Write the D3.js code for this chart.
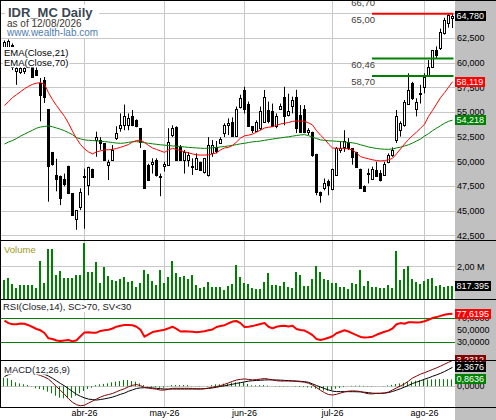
<!DOCTYPE html>
<html>
  <head>
    <meta charset="utf-8">
    <title>IDR_MC Daily</title>
    <script src="https://cdn.jsdelivr.net/npm/d3@7"></script>
    <style>
      body { margin: 0; background: #fff; }
      #chart { display: block; font-family: "Liberation Sans", Arial, sans-serif; }
      .axis .domain { display: none; }
      .axis text { font-family: "Liberation Sans", Arial, sans-serif; font-size: 9px; fill: #000; }
    </style>
  </head>
  <body>
    <svg id="chart" width="496" height="420"></svg>
    <script>
      // daily sessions, early March to 12 Aug 2026, oldest first
      var opens = [60.3, 61.2, 61.8, 59.2, 59.1, 59.2, 59.6, 59.6, 59.3, 58.0,
        58.3, 55.3, 51.0, 48.7, 48.6, 48.3, 49.55, 46.8, 44.2, 45.45,
        48.5, 47.6, 49.3, 52.2, 52.2, 51.9, 49.7, 50.2, 52.4, 53.4,
        53.7, 53.7, 54.6, 54.2, 53.4, 51.2, 49.7, 49.8, 50.2, 48.6,
        49.6, 49.7, 52.7, 53.5, 51.5, 50.2, 50.2, 49.6, 49.3, 50.0,
        49.0, 48.66, 50.85, 51.5, 51.9, 52.9, 53.7, 54.05, 52.6, 55.6,
        57.28, 55.9, 53.6, 53.15, 53.4, 54.05, 55.2, 55.1, 53.6, 55.4,
        56.6, 54.7, 55.65, 56.6, 54.7, 55.4, 53.05, 53.05, 50.8, 46.97,
        47.3, 48.0, 47.2, 48.66, 51.2, 51.5, 52.05, 51.35, 51.0, 49.3,
        47.5, 48.9, 48.2, 49.2, 48.9, 48.66, 50.0, 50.7, 52.2, 53.2,
        53.7, 55.9, 57.95, 55.4, 56.9, 57.6, 58.8, 59.64, 61.33, 61.5,
        63.1, 64.1, 64.6];
      var highs = [62.3, 62.4, 62.0, 60.3, 60.2, 60.0, 60.4, 60.2, 59.8, 58.5,
        58.6, 55.3, 51.0, 50.3, 48.6, 48.8, 49.6, 46.8, 45.1, 47.3,
        49.3, 49.5, 49.3, 53.05, 52.5, 51.9, 50.2, 51.7, 53.6, 54.9,
        55.8, 54.9, 55.25, 54.3, 53.4, 51.2, 49.8, 50.35, 50.35, 48.8,
        50.0, 53.4, 53.7, 53.6, 51.7, 51.2, 51.0, 50.35, 50.85, 50.0,
        50.35, 52.5, 52.2, 52.1, 52.5, 53.9, 54.4, 54.5, 55.6, 56.8,
        57.6, 56.1, 53.6, 54.2, 55.6, 57.28, 56.1, 55.9, 54.9, 55.9,
        57.6, 56.9, 56.6, 57.3, 55.75, 55.75, 53.4, 53.05, 50.8, 46.97,
        48.3, 48.2, 49.3, 51.5, 52.05, 53.2, 52.4, 51.35, 51.0, 49.3,
        47.6, 49.3, 49.5, 50.0, 49.15, 50.0, 50.85, 51.45, 55.25, 54.1,
        56.26, 58.97, 58.1, 56.43, 57.8, 58.97, 60.32, 61.33, 61.7, 63.5,
        64.6, 65.0, 65.0];
      var lows = [60.0, 60.6, 59.3, 57.8, 58.9, 58.9, 59.5, 58.5, 58.7, 54.1,
        55.96, 45.95, 49.6, 47.0, 45.6, 47.5, 46.8, 44.6, 43.1, 45.1,
        43.2, 46.6, 48.5, 50.5, 51.2, 50.2, 48.15, 50.2, 52.2, 53.05,
        53.2, 53.2, 53.6, 53.5, 51.4, 47.3, 48.15, 48.8, 48.5, 46.5,
        49.0, 49.7, 52.5, 50.2, 50.2, 48.8, 49.5, 48.66, 49.3, 49.2,
        48.8, 48.5, 50.5, 50.85, 51.85, 52.5, 52.7, 52.55, 52.6, 55.4,
        54.9, 53.6, 52.9, 53.05, 53.2, 54.05, 53.9, 53.6, 53.4, 55.25,
        53.7, 54.6, 54.9, 52.9, 53.05, 52.9, 52.7, 50.5, 46.6, 45.85,
        47.1, 46.6, 47.1, 48.66, 50.9, 51.0, 51.2, 49.7, 49.5, 47.3,
        47.0, 47.8, 48.15, 48.5, 48.0, 48.66, 49.85, 50.5, 51.9, 52.55,
        53.55, 55.9, 56.26, 54.6, 55.9, 56.94, 58.8, 59.5, 60.5, 61.33,
        62.9, 63.6, 63.56];
      var closes = [62.1, 62.2, 59.6, 59.5, 59.5, 59.5, 60.2, 58.6, 58.8, 56.8,
        56.6, 49.6, 49.8, 48.3, 46.3, 47.7, 46.8, 44.6, 45.1, 46.97,
        48.6, 49.5, 48.5, 52.5, 51.9, 50.2, 50.0, 51.2, 52.9, 53.7,
        54.6, 54.4, 53.7, 53.6, 52.0, 47.3, 48.15, 50.0, 48.66, 48.55,
        49.8, 52.0, 53.4, 50.2, 50.2, 51.0, 50.7, 49.5, 50.35, 49.2,
        50.35, 51.7, 51.7, 51.1, 52.3, 53.7, 53.95, 52.6, 55.4, 56.5,
        55.4, 53.6, 53.2, 54.05, 55.1, 56.6, 54.1, 53.6, 54.6, 55.65,
        54.6, 55.1, 56.3, 53.4, 53.05, 53.05, 53.2, 50.7, 46.97, 46.6,
        47.8, 47.6, 49.3, 51.35, 51.35, 52.1, 51.35, 50.5, 49.5, 47.3,
        47.05, 48.8, 49.3, 48.55, 48.15, 49.8, 50.7, 51.2, 54.6, 53.9,
        56.1, 57.28, 56.43, 56.1, 57.0, 58.6, 59.6, 61.33, 60.8, 63.2,
        64.4, 64.9, 64.78];
      var volumes = [1180000, 1290000, 940000, 710000, 880000, 880000, 880000, 880000, 710000, 2350000,
        980000, 3090000, 3090000, 1490000, 1740000, 1290000, 1330000, 1330000, 1490000, 1490000,
        3450000, 1700000, 1700000, 2310000, 980000, 1980000, 1450000, 1180000, 1120000, 1250000,
        1370000, 1080000, 1120000, 730000, 980000, 1820000, 1530000, 1120000, 880000, 1820000,
        1020000, 1370000, 2350000, 1630000, 1370000, 1410000, 1250000, 1490000, 880000, 710000,
        770000, 1060000, 770000, 750000, 750000, 570000, 820000, 920000, 2100000, 1370000,
        980000, 960000, 670000, 630000, 630000, 1040000, 1610000, 880000, 880000, 840000,
        1040000, 770000, 710000, 1700000, 1490000, 820000, 820000, 1250000, 2040000, 1670000,
        1250000, 1180000, 1020000, 1020000, 730000, 770000, 630000, 980000, 940000, 1820000,
        840000, 1120000, 770000, 770000, 670000, 710000, 880000, 710000, 2980000, 1180000,
        1860000, 2040000, 1250000, 1040000, 940000, 1120000, 1230000, 1330000, 840000, 880000,
        770000, 820000, 817395];

      // indicators as plotted
      var ema21 = [55.7, 56.1, 56.5, 56.8, 57.1, 57.4, 57.65, 57.85, 57.97, 58.02,
        57.85, 57.0, 56.3, 55.7, 55.15, 54.6, 53.9, 53.1, 52.35, 51.75,
        51.3, 51.0, 50.8, 51.0, 51.1, 51.2, 51.22, 51.25, 51.35, 51.46,
        51.6, 51.75, 52.0, 52.15, 52.2, 51.95, 51.65, 51.4, 51.25, 51.1,
        50.95, 51.2, 51.36, 51.25, 51.13, 51.0, 50.9, 50.8, 50.7, 50.68,
        50.68, 50.7, 50.8, 50.9, 51.2, 51.4, 51.46, 51.65, 52.0, 52.4,
        52.63, 52.7, 52.8, 53.0, 53.2, 53.42, 53.5, 53.55, 53.7, 53.83,
        53.9, 53.98, 54.1, 54.13, 54.13, 54.1, 53.95, 53.73, 53.15, 52.7,
        52.3, 51.8, 51.4, 51.36, 51.36, 51.36, 51.3, 51.2, 50.9, 50.52,
        50.4, 50.3, 50.2, 50.12, 50.08, 50.12, 50.2, 50.35, 50.8, 51.3,
        51.8, 52.25, 52.65, 53.0, 53.4, 53.8, 54.6, 55.2, 55.85, 56.5,
        57.0, 57.55, 58.119];
      var ema70 = [51.8, 52.0, 52.15, 52.35, 52.6, 52.8, 53.0, 53.2, 53.4, 53.52,
        53.58, 53.63, 53.55, 53.42, 53.3, 53.15, 52.95, 52.75, 52.45, 52.32,
        52.22, 52.18, 52.15, 52.12, 52.08, 52.05, 52.0, 51.95, 51.9, 51.87,
        51.9, 51.97, 52.03, 52.04, 52.0, 51.93, 51.87, 51.82, 51.77, 51.72,
        51.68, 51.65, 51.6, 51.58, 51.55, 51.5, 51.46, 51.43, 51.4, 51.37,
        51.36, 51.38, 51.42, 51.45, 51.5, 51.55, 51.6, 51.67, 51.74, 51.82,
        51.87, 51.95, 52.02, 52.05, 52.1, 52.17, 52.24, 52.3, 52.37, 52.42,
        52.48, 52.53, 52.6, 52.66, 52.72, 52.75, 52.65, 52.5, 52.35, 52.22,
        52.17, 52.13, 52.11, 52.08, 52.05, 52.0, 51.96, 51.92, 51.85, 51.72,
        51.62, 51.5, 51.42, 51.35, 51.3, 51.27, 51.26, 51.3, 51.4, 51.48,
        51.6, 51.72, 51.9, 52.1, 52.3, 52.6, 52.85, 53.15, 53.4, 53.65,
        53.9, 54.1, 54.218];
      var rsi14 = [66, 62, 60, 60, 61.5, 61, 58.5, 55.5, 52.2, 50,
        45.5, 36.7, 35.5, 33, 32.2, 33, 33.8, 31.5, 33.5, 40,
        46.5, 46.7, 46, 46, 49, 50, 51, 53, 56, 57.5,
        58.8, 58.8, 58.5, 56, 51, 39.4, 43.3, 47, 48.5, 49.5,
        51, 53.3, 56, 52.5, 48, 48.5, 48, 47.5, 46.8, 47.5,
        48.5, 50, 51.5, 55.5, 57, 58.5, 61.7, 64.5, 65.5, 62,
        55.5, 56, 57, 59, 60.5, 62, 56, 53.3, 56, 57,
        57.7, 56.5, 57.7, 52, 50.5, 49.5, 46, 42, 35.5, 34,
        35.5, 37.7, 40, 45, 47.5, 50, 48, 45, 42, 39,
        38, 38.3, 39.4, 42.5, 45, 47.5, 49.5, 53, 60, 62,
        61, 63.5, 63.3, 63, 63.3, 65, 67.5, 70.5, 72, 74,
        76, 77, 77.6195];
      var macdLine = [2.35, 2.42, 2.38, 2.22, 2.18, 2.1, 2.0, 1.78, 1.52, 1.35,
        1.15, 0.9, 0.45, -0.05, -0.5, -1.0, -1.55, -2.0, -2.3, -2.43,
        -2.36, -2.1, -1.85, -1.59, -1.35, -1.15, -1.03, -0.9, -0.68, -0.48,
        -0.3, -0.06, 0.12, 0.22, 0.08, -0.15, -0.23, -0.3, -0.36, -0.48,
        -0.47, -0.38, -0.25, -0.25, -0.25, -0.25, -0.25, -0.27, -0.3, -0.34,
        -0.3, -0.22, -0.13, -0.02, 0.08, 0.25, 0.42, 0.62, 0.78, 0.87,
        0.92, 0.86, 0.8, 0.84, 0.9, 0.97, 0.9, 0.8, 0.7, 0.66,
        0.66, 0.66, 0.66, 0.62, 0.57, 0.52, 0.38, 0.16, -0.15, -0.5,
        -0.8, -1.03, -1.09, -1.0, -0.85, -0.7, -0.6, -0.58, -0.59, -0.66,
        -0.82, -0.93, -0.95, -0.88, -0.88, -0.83, -0.72, -0.46, -0.2, 0.05,
        0.3, 0.65, 1.03, 1.27, 1.52, 1.7, 1.9, 2.1, 2.3, 2.52,
        2.76, 3.0, 3.2312];
      var macdSignal = [1.22, 1.45, 1.6, 1.72, 1.83, 1.85, 1.85, 1.83, 1.75, 1.65,
        1.5, 1.28, 1.0, 0.68, 0.35, 0.05, -0.3, -0.65, -1.0, -1.25,
        -1.45, -1.6, -1.66, -1.72, -1.65, -1.57, -1.47, -1.35, -1.18, -1.0,
        -0.85, -0.62, -0.45, -0.27, -0.2, -0.17, -0.17, -0.2, -0.25, -0.3,
        -0.34, -0.34, -0.34, -0.34, -0.34, -0.34, -0.34, -0.34, -0.34, -0.32,
        -0.3, -0.26, -0.2, -0.12, -0.02, 0.06, 0.16, 0.26, 0.37, 0.45,
        0.55, 0.65, 0.7, 0.73, 0.76, 0.79, 0.8, 0.8, 0.79, 0.77,
        0.74, 0.71, 0.68, 0.66, 0.62, 0.58, 0.5, 0.3, 0.1, -0.1,
        -0.28, -0.45, -0.6, -0.66, -0.67, -0.67, -0.67, -0.67, -0.68, -0.7,
        -0.74, -0.8, -0.86, -0.88, -0.88, -0.86, -0.78, -0.65, -0.48, -0.3,
        -0.1, 0.12, 0.35, 0.52, 0.7, 0.88, 1.05, 1.25, 1.42, 1.62,
        1.85, 2.1, 2.3676];
      var macdHist = [1.08, 1.0, 0.79, 0.5, 0.37, 0.25, 0.16, -0.05, -0.25, -0.34,
        -0.46, -0.67, -0.88, -1.18, -1.43, -1.5, -1.5, -1.43, -1.18, -0.88,
        -0.59, -0.34, -0.17, 0.16, 0.25, 0.3, 0.37, 0.5, 0.58, 0.66,
        0.79, 0.79, 0.66, 0.58, 0.37, 0.16, 0.04, -0.09, -0.09, -0.17,
        -0.17, -0.05, 0.16, 0.16, 0.16, 0.16, 0.16, 0.04, -0.02, -0.05,
        0.0, 0.04, 0.16, 0.25, 0.25, 0.33, 0.33, 0.46, 0.5, 0.5,
        0.5, 0.3, 0.12, 0.12, 0.14, 0.16, 0.1, 0.0, -0.04, -0.05,
        -0.05, -0.03, 0.0, -0.06, -0.08, -0.1, -0.15, -0.2, -0.3, -0.45,
        -0.55, -0.55, -0.45, -0.3, -0.2, -0.1, 0.0, 0.06, 0.08, 0.08,
        0.06, -0.04, -0.06, -0.02, 0.0, 0.03, 0.1, 0.18, 0.28, 0.36,
        0.44, 0.52, 0.62, 0.7, 0.76, 0.8, 0.84, 0.86, 0.88, 0.9,
        0.9, 0.88, 0.8636];

      // months and the session each one opens on
      var monthLabels = ["abr-26", "may-26", "jun-26", "jul-26", "ago-26"];
      var monthStarts = [20, 40, 60, 82, 105];

      // axis ticks
      var priceTicks = [42.5, 45, 47.5, 50, 52.5, 55, 57.5, 60, 62.5, 65];
      var volumeTicks = [2000000];
      var rsiTicks = [30, 50, 70];
      var macdTicks = [0];

      // horizontal price levels drawn from one session to the end
      var levelValues = [66.70, 65.00, 60.46, 58.70];
      var levelKinds = ["resistance", "resistance", "support", "support"];
      var levelStart = 92;

      // spanish style numbers
      var locale = d3.formatLocale({ decimal: ",", thousands: ".", grouping: [3], currency: ["", ""] });
      var fmtPrice = locale.format(".3f");
      var fmtLevel = locale.format(".2f");
      var fmtInd = locale.format(".4f");
      var fmtShares = locale.format(",d");
      var fmtMillions = function(v) { return locale.format(".2f")(v / 1e6) + " M"; };

      var chart = d3.select("#chart");
      var width = 496, height = 420, plotRight = 455;
      var last = closes.length - 1;

      // scales
      var x = d3.scaleLinear().domain([0, last]).range([4.5, 452.5]);
      var yPrice = d3.scaleLinear().domain([42.5, 62.5]).range([235.7, 38.5]);
      var yVol = d3.scaleLinear().domain([0, 2000000]).range([299.3, 266.7]);
      var yRsi = d3.scaleLinear().domain([0, 100]).range([360.3, 300.3]);
      var yMacd = d3.scaleLinear().domain([0, 1]).range([386.3, 378.3]);

      function crisp(v) { return Math.round(v - 0.5) + 0.5; }

      // clip paths, one per pane
      var defs = chart.append("defs");
      function clip(id, top, bottom) {
        defs.append("clipPath").attr("id", id)
          .append("rect").attr("x", 0).attr("y", top)
          .attr("width", plotRight).attr("height", bottom - top);
        return "url(#" + id + ")";
      }
      var clipPrice = clip("cPrice", 1, 240);
      var clipVol = clip("cVol", 241, 299);
      var clipRsi = clip("cRsi", 300, 360);
      var clipMacd = clip("cMacd", 361, 407);

      // grey scale column
      chart.append("rect")
        .attr("x", plotRight).attr("y", 0)
        .attr("width", width - plotRight).attr("height", height)
        .attr("fill", "#c0c0c0");

      // grid
      var grid = chart.append("g").attr("stroke", "#c8c8c8").attr("stroke-width", 1);
      grid.selectAll(".vgrid").data(monthStarts).enter().append("line")
        .attr("x1", function(d) { return x(d); }).attr("x2", function(d) { return x(d); })
        .attr("y1", 0).attr("y2", 407);
      grid.selectAll(".pgrid").data(priceTicks).enter().append("line")
        .attr("x1", 0).attr("x2", plotRight)
        .attr("y1", function(d) { return crisp(yPrice(d)); })
        .attr("y2", function(d) { return crisp(yPrice(d)); });
      grid.selectAll(".vol").data(volumeTicks).enter().append("line")
        .attr("x1", 0).attr("x2", plotRight)
        .attr("y1", function(d) { return crisp(yVol(d)); })
        .attr("y2", function(d) { return crisp(yVol(d)); });
      grid.selectAll(".macd").data(macdTicks).enter().append("line")
        .attr("x1", 0).attr("x2", plotRight)
        .attr("y1", function(d) { return crisp(yMacd(d)); })
        .attr("y2", function(d) { return crisp(yMacd(d)); });
      // rsi bands
      chart.append("g").selectAll("line").data([30, 70]).enter().append("line")
        .attr("x1", 0).attr("x2", plotRight)
        .attr("y1", function(d) { return crisp(yRsi(d)); })
        .attr("y2", function(d) { return crisp(yRsi(d)); })
        .attr("stroke", "#008000");

      // candles
      var priceGroup = chart.append("g").attr("clip-path", clipPrice);
      var candles = priceGroup.selectAll(".candle").data(closes).enter().append("g");
      candles.append("line")
        .attr("x1", function(d, i) { return x(i); })
        .attr("x2", function(d, i) { return x(i); })
        .attr("y1", function(d, i) { return yPrice(highs[i]); })
        .attr("y2", function(d, i) { return yPrice(lows[i]); })
        .attr("stroke", "#000");
      candles.append("rect")
        .attr("x", function(d, i) { return x(i) - 1; })
        .attr("width", 2)
        .attr("y", function(d, i) { return Math.round(yPrice(Math.max(opens[i], d))) + 0.5; })
        .attr("height", function(d, i) {
          return Math.max(1, Math.round(yPrice(Math.min(opens[i], d))) - Math.round(yPrice(Math.max(opens[i], d))));
        })
        .attr("fill", function(d, i) { return d >= opens[i] ? "#fff" : "#000"; })
        .attr("stroke", "#000");

      // moving averages
      var priceLine = d3.line().x(function(d, i) { return x(i); }).y(function(d) { return yPrice(d); });
      priceGroup.append("path").datum(ema70).attr("d", priceLine)
        .attr("fill", "none").attr("stroke", "#008000");
      priceGroup.append("path").datum(ema21).attr("d", priceLine)
        .attr("fill", "none").attr("stroke", "#ff0000");

      // levels
      priceGroup.selectAll(".level").data(levelValues).enter().append("line")
        .attr("x1", x(levelStart) - 0.5).attr("x2", x(last) + 1)
        .attr("y1", function(d) { return yPrice(d); })
        .attr("y2", function(d) { return yPrice(d); })
        .attr("stroke", function(d, i) { return levelKinds[i] == "resistance" ? "#ff0000" : "#008000"; })
        .attr("stroke-width", 2);
      priceGroup.selectAll(".levelLabel").data(levelValues).enter().append("text")
        .attr("x", x(levelStart) + 2.5)
        .attr("y", function(d) { return yPrice(d) + 9; })
        .attr("text-anchor", "end")
        .style("font-size", "9.5px")
        .attr("fill", "#45403a")
        .text(function(d) { return fmtLevel(d); });

      // volume
      chart.append("g").attr("clip-path", clipVol)
        .selectAll("rect").data(volumes).enter().append("rect")
        .attr("x", function(d, i) { return x(i) - 1.5; })
        .attr("width", 2)
        .attr("y", function(d) { return yVol(d); })
        .attr("height", function(d) { return yVol(0) - yVol(d); })
        .attr("fill", "#008000")
        .attr("shape-rendering", "crispEdges");

      // rsi
      chart.append("g").attr("clip-path", clipRsi)
        .append("path").datum(rsi14)
        .attr("d", d3.line().x(function(d, i) { return x(i); }).y(function(d) { return yRsi(d); }))
        .attr("fill", "none").attr("stroke", "#ff0000").attr("stroke-width", 2)
        .attr("stroke-linejoin", "round");

      // macd
      var macdGroup = chart.append("g").attr("clip-path", clipMacd);
      macdGroup.selectAll(".hist").data(macdHist).enter().append("line")
        .attr("x1", function(d, i) { return x(i) - 1; })
        .attr("x2", function(d, i) { return x(i) - 1; })
        .attr("y1", yMacd(0))
        .attr("y2", function(d) { return yMacd(d); })
        .attr("stroke", "#008000");
      var macdPath = d3.line().x(function(d, i) { return x(i); }).y(function(d) { return yMacd(d); });
      macdGroup.append("path").datum(macdSignal).attr("d", macdPath)
        .attr("fill", "none").attr("stroke", "#000");
      macdGroup.append("path").datum(macdLine).attr("d", macdPath)
        .attr("fill", "none").attr("stroke", "#800000");

      // labels with a white backing
      function boxedLabels(lines) {
        var g = chart.append("g");
        var bg = g.append("rect").attr("fill", "#fff");
        lines.forEach(function(l) {
          g.append("text").attr("x", l.x).attr("y", l.y)
            .style("font-size", l.size + "px")
            .style("font-weight", l.bold ? "bold" : "normal")
            .attr("fill", l.color).text(l.text);
        });
        var b = g.node().getBBox();
        bg.attr("x", b.x - 1).attr("y", b.y).attr("width", b.width + 2).attr("height", b.height);
      }
      boxedLabels([
        { text: "IDR_MC Daily", x: 8, y: 16.5, size: 13, bold: true, color: "#3b4650" },
        { text: "as of 12/08/2026", x: 7, y: 26.5, size: 10, color: "#3c3630" },
        { text: "www.wealth-lab.com", x: 7, y: 36, size: 10, color: "#4f7db0" }
      ]);
      boxedLabels([
        { text: "EMA(Close,21)", x: 4, y: 56, size: 9.5, color: "#000" },
        { text: "EMA(Close,70)", x: 4, y: 65.5, size: 9.5, color: "#000" }
      ]);
      boxedLabels([{ text: "Volume", x: 4, y: 252.5, size: 9.5, color: "#9a9a22" }]);
      boxedLabels([{ text: "RSI(Close,14), SC>70, SV<30", x: 3, y: 310, size: 9.5, color: "#1a1a1a" }]);
      boxedLabels([{ text: "MACD(12,26,9)", x: 4, y: 372.5, size: 9.5, color: "#1a1a2a" }]);

      // right hand scales
      chart.append("g").attr("class", "axis").attr("transform", "translate(" + plotRight + ",0)")
        .call(d3.axisRight(yPrice).tickValues(priceTicks).tickFormat(fmtPrice).tickSize(0).tickPadding(2).offset(0));
      chart.append("g").attr("class", "axis").attr("transform", "translate(" + plotRight + ",0)")
        .call(d3.axisRight(yVol).tickValues(volumeTicks).tickFormat(fmtMillions).tickSize(0).tickPadding(2).offset(0));
      chart.append("g").attr("class", "axis").attr("transform", "translate(" + plotRight + ",0)")
        .call(d3.axisRight(yRsi).tickValues(rsiTicks).tickFormat(fmtInd).tickSize(0).tickPadding(2).offset(0));
      chart.append("g").attr("class", "axis").attr("transform", "translate(" + plotRight + ",0)")
        .call(d3.axisRight(yMacd).tickValues(macdTicks).tickFormat(fmtInd).tickSize(0).tickPadding(2).offset(0));

      // month labels
      chart.append("g").attr("class", "axis").attr("transform", "translate(0,407)")
        .call(d3.axisBottom(x).tickValues(monthStarts)
          .tickFormat(function(d, i) { return monthLabels[i]; })
          .tickSize(0).tickPadding(3).offset(0));

      // last value boxes
      function valueBox(yPos, label, bg) {
        var g = chart.append("g");
        var r = g.append("rect").attr("fill", bg);
        var t = g.append("text").attr("x", plotRight + 1.5).attr("y", yPos).attr("dy", "0.33em")
          .style("font-size", "9px").attr("fill", "#fff").text(label);
        var w = t.node().getComputedTextLength();
        r.attr("x", plotRight).attr("y", Math.round(yPos) - 5).attr("width", Math.ceil(w) + 3).attr("height", 10);
      }
      valueBox(yPrice(closes[last]), fmtPrice(closes[last]), "#000");
      valueBox(yPrice(ema21[last]), fmtPrice(ema21[last]), "#ff0000");
      valueBox(yPrice(ema70[last]), fmtPrice(ema70[last]), "#008000");
      valueBox(yVol(volumes[last]), fmtShares(volumes[last]), "#000");
      valueBox(yRsi(rsi14[last]), fmtInd(rsi14[last]), "#ff0000");
      valueBox(yMacd(macdLine[last]), fmtInd(macdLine[last]), "#800000");
      valueBox(yMacd(macdSignal[last]), fmtInd(macdSignal[last]), "#000");
      valueBox(yMacd(macdHist[last]), fmtInd(macdHist[last]), "#008000");

      // pane borders
      var borders = chart.append("g").attr("stroke", "#000").attr("stroke-width", 1);
      [0.5, 240.5, 299.5, 360.5, 407.5].forEach(function(yy) {
        borders.append("line").attr("x1", 0).attr("x2", width).attr("y1", yy).attr("y2", yy);
      });
      borders.append("line").attr("x1", 0.5).attr("x2", 0.5).attr("y1", 0).attr("y2", 407.5);
    </script>
  </body>
</html>
